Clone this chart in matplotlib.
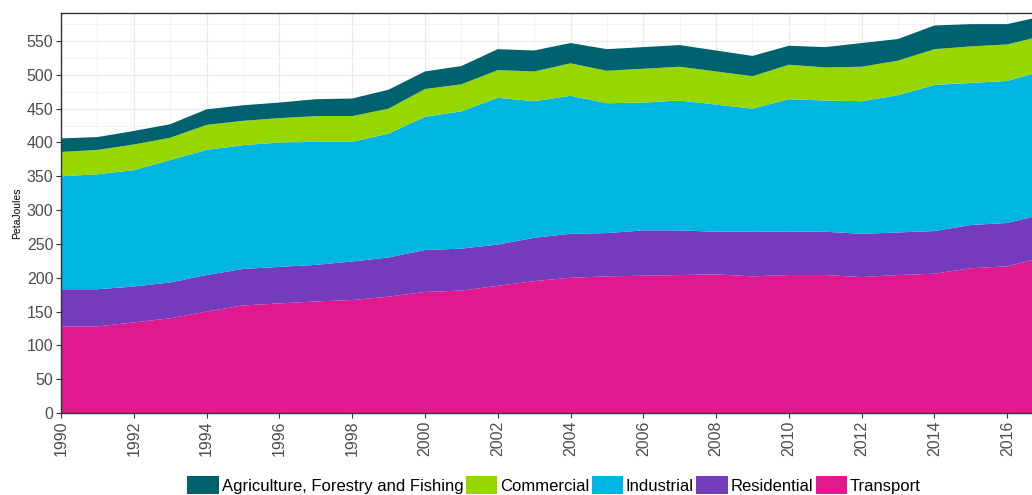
import matplotlib
matplotlib.use("Agg")
import matplotlib.pyplot as plt
from matplotlib.patches import Patch
from matplotlib.ticker import MultipleLocator

plt.rcParams['font.family'] = ['Liberation Sans', 'DejaVu Sans']

years = list(range(1990, 2018))
transport = [128, 128, 134, 140, 150, 159, 162, 165, 167, 172, 179, 181, 188, 195,
             200, 202, 203, 204, 205, 202, 204, 204, 201, 204, 206, 214, 217, 230]
residential = [55, 55, 53, 53, 54, 54, 54, 54, 57, 58, 62, 62, 61, 64,
               65, 64, 67, 66, 63, 66, 64, 64, 64, 63, 63, 64, 64, 64]
industrial = [167, 170, 172, 181, 185, 183, 184, 182, 177, 183, 197, 203, 217, 202,
              204, 192, 189, 192, 188, 182, 196, 194, 196, 203, 216, 210, 210, 212]
commercial = [36, 36, 38, 33, 37, 36, 36, 38, 38, 37, 41, 40, 41, 44,
              48, 48, 50, 50, 49, 48, 51, 49, 51, 51, 53, 54, 54, 52]
agriculture = [20, 19, 20, 20, 23, 23, 23, 25, 26, 28, 26, 27, 31, 31,
               30, 32, 32, 32, 31, 30, 28, 30, 35, 32, 35, 33, 30, 29]

series_names = ["Agriculture, Forestry and Fishing", "Commercial", "Industrial",
                "Residential", "Transport"]
colors = {"Agriculture, Forestry and Fishing": "#00626F",
          "Commercial": "#97D700",
          "Industrial": "#00B5E2",
          "Residential": "#753BBD",
          "Transport": "#E0198F"}

fig = plt.figure(figsize=(10.32, 4.95), dpi=100)
ax = fig.add_axes([61 / 1032, 82 / 495, 1 - 61 / 1032, (413 - 13.3) / 495])

stack_order = ["Transport", "Residential", "Industrial", "Commercial",
               "Agriculture, Forestry and Fishing"]
data = {"Transport": transport, "Residential": residential, "Industrial": industrial,
        "Commercial": commercial, "Agriculture, Forestry and Fishing": agriculture}
ax.stackplot(years, [data[n] for n in stack_order],
             colors=[colors[n] for n in stack_order], linewidth=0, zorder=2)

ax.set_xlim(1990, 2016.68)
ax.set_ylim(0, 591)
ax.xaxis.set_major_locator(MultipleLocator(2))
ax.xaxis.set_minor_locator(MultipleLocator(1))
ax.yaxis.set_major_locator(MultipleLocator(50))
ax.yaxis.set_minor_locator(MultipleLocator(25))
ax.grid(which='major', color='#EBEBEB', linewidth=0.9, zorder=0)
ax.grid(which='minor', color='#F2F2F2', linewidth=0.6, zorder=0)
ax.set_axisbelow(True)

for s in ['left', 'bottom', 'top']:
    ax.spines[s].set_color('#333333')
    ax.spines[s].set_linewidth(1.0)
    ax.spines[s].set_zorder(5)
ax.spines['right'].set_visible(False)

ax.tick_params(axis='both', which='major', length=3.5, width=0.8, color='#333333',
               labelcolor='#4D4D4D', labelsize=11.5)
ax.tick_params(axis='both', which='minor', length=0)
ax.tick_params(axis='x', labelrotation=90, pad=2)
ax.tick_params(axis='y', pad=2)

ax.set_ylabel("PetaJoules", fontsize=7.5, color='black', labelpad=3)

handles = [Patch(facecolor=colors[n], edgecolor='none', label=n) for n in series_names]
fig.legend(handles=handles, loc='center', bbox_to_anchor=(554 / 1032, 1 - 485 / 495),
           ncol=5, frameon=False, fontsize=12, handlelength=1.9, handleheight=1.2,
           handletextpad=0.15, columnspacing=0.15, borderaxespad=0)

fig.savefig("out.png", dpi=100)
